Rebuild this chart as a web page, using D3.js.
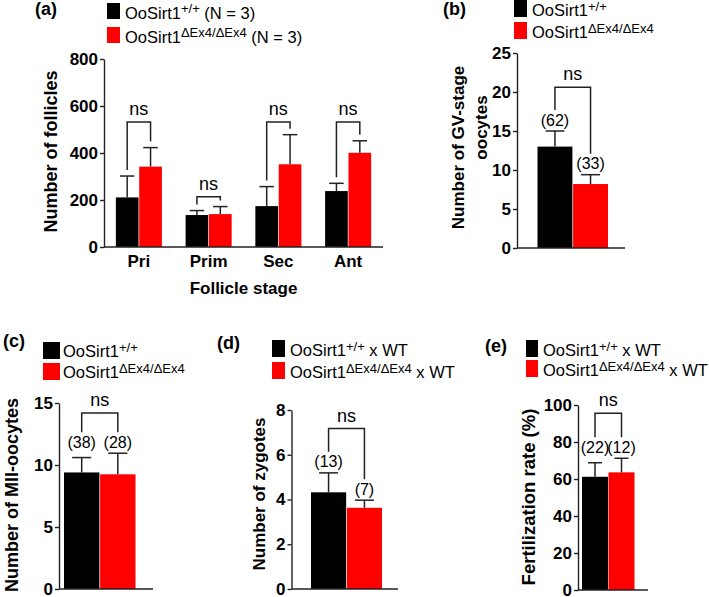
<!DOCTYPE html>
<html>
<head>
<meta charset="utf-8">
<script src="https://cdn.jsdelivr.net/npm/d3@7"></script>
<style>
  body { margin: 0; background: #fff; }
  text { font-family: "Liberation Sans", Arial, sans-serif; white-space: pre; }
</style>
</head>
<body>
<svg id="fig" width="709" height="597"></svg>
<script>
// ---- data ----
var genotypes = ["WT", "KO"];
var geneName = "OoSirt1";
var supWT = "+/+";
var supKO = "\u0394Ex4/\u0394Ex4";

// (a) follicle counts per stage
var stages = ["Pri", "Prim", "Sec", "Ant"];
var follWT = [211, 136, 174, 238];
var follWTerr = [91, 19, 83, 33];
var follKO = [342, 140, 352, 401];
var follKOerr = [81, 32, 126, 51];
var follTicks = [0, 200, 400, 600, 800];

// (b) GV-stage oocytes
var gvMean = [13.0, 8.2];
var gvErr = [2.0, 1.2];
var gvN = ["(62)", "(33)"];
var gvTicks = [0, 5, 10, 15, 20, 25];

// (c) MII oocytes
var miiMean = [9.4, 9.25];
var miiErr = [1.2, 1.7];
var miiN = ["(38)", "(28)"];
var miiTicks = [0, 5, 10, 15];

// (d) zygotes
var zygMean = [4.32, 3.63];
var zygErr = [0.87, 0.34];
var zygN = ["(13)", "(7)"];
var zygTicks = [0, 2, 4, 6, 8];

// (e) fertilization rate
var fertMean = [61.2, 63.6];
var fertErr = [7.6, 7.6];
var fertN = ["(22)", "(12)"];
var fertTicks = [0, 20, 40, 60, 80, 100];

var colors = {WT: "#000000", KO: "#ff0000"};
var ink = "#222";

var svg = d3.select("#fig");

// ---- helpers ----
function yAxis(x0, y, ticks, fs) {
    svg.append("g")
        .attr("transform", "translate(" + x0 + ",0)")
        .call(d3.axisLeft(y).tickValues(ticks).tickSize(4).tickPadding(2).tickSizeOuter(0))
        .call(function(g) {
            g.select(".domain").attr("stroke", ink).attr("stroke-width", 1.4);
            g.selectAll(".tick line").attr("stroke", ink).attr("stroke-width", 1.4);
            g.selectAll(".tick text")
                .attr("font-family", null)
                .attr("font-weight", "bold")
                .attr("font-size", fs)
                .attr("fill", "#000");
        });
}

function xLine(x0, x1, y0) {
    svg.append("line")
        .attr("x1", x0).attr("x2", x1)
        .attr("y1", y0).attr("y2", y0)
        .attr("stroke", ink).attr("stroke-width", 1.4);
}

function whisker(cx, yTop, yBar, half) {
    svg.append("line").attr("x1", cx).attr("x2", cx).attr("y1", yBar).attr("y2", yTop)
        .attr("stroke", ink).attr("stroke-width", 1.5);
    svg.append("line").attr("x1", cx - half).attr("x2", cx + half).attr("y1", yTop).attr("y2", yTop)
        .attr("stroke", ink).attr("stroke-width", 1.5);
}

function bracket(xa, xb, top, endA, endB, fs) {
    svg.append("path")
        .attr("d", "M" + xa + "," + endA + "V" + top + "H" + xb + "V" + endB)
        .attr("fill", "none").attr("stroke", ink).attr("stroke-width", 1.5);
    svg.append("text")
        .attr("x", (xa + xb) / 2).attr("y", top - 7)
        .attr("text-anchor", "middle").attr("font-size", fs)
        .text("ns");
}

function legend(L, suffix) {
    [{c: colors.WT, sup: supWT}, {c: colors.KO, sup: supKO}].forEach(function(r, i) {
        var top = L.y + i * L.gap;
        svg.append("rect").attr("x", L.x).attr("y", top)
            .attr("width", L.w).attr("height", L.h).attr("fill", r.c);
        var t = svg.append("text").attr("x", L.tx).attr("y", top + L.base)
            .attr("font-size", 16.5);
        t.append("tspan").text(geneName);
        t.append("tspan").attr("dy", -5.5).attr("font-size", 13).text(r.sup);
        t.append("tspan").attr("dy", 5.5).text(suffix);
    });
}

function panelLabel(txt, x, y) {
    svg.append("text").attr("x", x).attr("y", y)
        .attr("font-weight", "bold").attr("font-size", 18).text(txt);
}

function yTitle(lines, fs) {
    lines.forEach(function(l) {
        svg.append("text")
            .attr("transform", "translate(" + l.x + "," + l.y + ") rotate(-90)")
            .attr("text-anchor", "middle")
            .attr("font-weight", "bold").attr("font-size", fs)
            .text(l.t);
    });
}

// ---- (a) grouped bars ----
(function() {
    var x0 = 104, x1 = 383, y0 = 247, y1 = 59;
    var y = d3.scaleLinear().domain([0, 800]).range([y0, y1]);
    var x = d3.scaleBand().domain(stages).range([x0, x1]).paddingInner(0.34).paddingOuter(0.17);
    var xs = d3.scaleBand().domain(genotypes).range([0, x.bandwidth()]).paddingInner(0.03);
    var levels = [532, 214, 532, 532];   // bracket heights (data units)

    var rows = stages.map(function(s, i) {
        return {stage: s, vals: [
            {g: "WT", v: follWT[i], e: follWTerr[i]},
            {g: "KO", v: follKO[i], e: follKOerr[i]}
        ]};
    });

    var grp = svg.append("g");
    grp.selectAll("g").data(rows).enter().append("g")
        .attr("transform", function(d) { return "translate(" + x(d.stage) + ",0)"; })
        .selectAll("rect").data(function(d) { return d.vals; }).enter().append("rect")
        .attr("x", function(d) { return xs(d.g); })
        .attr("width", xs.bandwidth())
        .attr("y", function(d) { return y(d.v); })
        .attr("height", function(d) { return y0 - y(d.v); })
        .attr("fill", function(d) { return colors[d.g]; });

    var half = xs.bandwidth() * 0.32;
    rows.forEach(function(r, i) {
        var cx = r.vals.map(function(d) { return x(r.stage) + xs(d.g) + xs.bandwidth() / 2; });
        r.vals.forEach(function(d, k) { whisker(cx[k], y(d.v + d.e), y(d.v), half); });
        bracket(cx[0], cx[1], y(levels[i]),
            y(r.vals[0].v + r.vals[0].e) - 6, y(r.vals[1].v + r.vals[1].e) - 6, 18);
    });

    yAxis(x0, y, follTicks, 17);
    xLine(x0, x1, y0);

    svg.append("g").selectAll("text").data(stages).enter().append("text")
        .attr("x", function(d) { return x(d) + x.bandwidth() / 2; })
        .attr("y", 267)
        .attr("text-anchor", "middle").attr("font-weight", "bold").attr("font-size", 17)
        .text(function(d) { return d; });
    svg.append("text").attr("x", (x0 + x1) / 2).attr("y", 294)
        .attr("text-anchor", "middle").attr("font-weight", "bold").attr("font-size", 17)
        .text("Follicle stage");

    yTitle([{t: "Number of follicles", x: 57, y: 151.5}], 18);
    legend({x: 107, y: 3, w: 13, h: 16, gap: 24, tx: 125, base: 15.5}, " (N = 3)");
    panelLabel("(a)", 35, 15);
})();

// ---- (b)-(e) two-bar panels ----
function pairPanel(cfg) {
    var y = d3.scaleLinear().domain([0, cfg.max]).range([cfg.y0, cfg.y1]);
    var x = d3.scaleBand().domain(genotypes).range([cfg.b0, cfg.b1]).paddingInner(0.02);
    var rows = genotypes.map(function(g, i) { return {g: g, v: cfg.mean[i], e: cfg.err[i], n: cfg.n[i]}; });

    svg.append("g").selectAll("rect").data(rows).enter().append("rect")
        .attr("x", function(d) { return x(d.g); })
        .attr("width", x.bandwidth())
        .attr("y", function(d) { return y(d.v); })
        .attr("height", function(d) { return cfg.y0 - y(d.v); })
        .attr("fill", function(d) { return colors[d.g]; });

    var half = x.bandwidth() * 0.27;
    var cx = rows.map(function(d) { return x(d.g) + x.bandwidth() / 2; });
    var tops = rows.map(function(d) { return y(d.v + d.e); });
    rows.forEach(function(d, k) { whisker(cx[k], tops[k], y(d.v), half); });

    var lab = tops.map(function(t) { return (cfg.align ? d3.min(tops) : t) - 11; });
    svg.append("g").selectAll("text").data(rows).enter().append("text")
        .attr("x", function(d, k) { return cx[k]; })
        .attr("y", function(d, k) { return lab[k] + 5.5; })
        .attr("text-anchor", "middle").attr("font-size", 16)
        .text(function(d) { return d.n; });

    bracket(cx[0], cx[1], y(cfg.level), lab[0] - 10, lab[1] - 10, 18);

    yAxis(cfg.x0, y, cfg.ticks, 17);
    xLine(cfg.x0, cfg.x1, cfg.y0);
    yTitle(cfg.title, cfg.titleSize);
    legend(cfg.legend, cfg.suffix);
    panelLabel(cfg.label, cfg.lx, cfg.ly);
}

pairPanel({
    mean: gvMean, err: gvErr, n: gvN, ticks: gvTicks, max: 25, level: 20.6,
    x0: 517, x1: 625, b0: 537.5, b1: 608, y0: 248, y1: 53, align: false,
    title: [{t: "Number of GV-stage", x: 464, y: 147.5}, {t: "oocytes", x: 487, y: 127.5}], titleSize: 17,
    legend: {x: 514, y: 0, w: 13, h: 17, gap: 22, tx: 532, base: 16}, suffix: "",
    label: "(b)", lx: 443, ly: 15
});

pairPanel({
    mean: miiMean, err: miiErr, n: miiN, ticks: miiTicks, max: 15, level: 14.2,
    x0: 59, x1: 153, b0: 64, b1: 135.5, y0: 589, y1: 403, align: true,
    title: [{t: "Number of MII-oocytes", x: 18, y: 495}], titleSize: 18,
    legend: {x: 43, y: 342, w: 17, h: 17, gap: 21, tx: 63, base: 15}, suffix: "",
    label: "(c)", lx: 3, ly: 347
});

pairPanel({
    mean: zygMean, err: zygErr, n: zygN, ticks: zygTicks, max: 8, level: 7.17,
    x0: 291.5, x1: 398, b0: 311, b1: 382, y0: 589, y1: 410, align: false,
    title: [{t: "Number of zygotes", x: 265, y: 494}], titleSize: 17,
    legend: {x: 272, y: 340, w: 13, h: 17, gap: 22, tx: 290, base: 16}, suffix: " x WT",
    label: "(d)", lx: 217, ly: 349
});

pairPanel({
    mean: fertMean, err: fertErr, n: fertN, ticks: fertTicks, max: 100, level: 95.5,
    x0: 578, x1: 648, b0: 582, b1: 634.5, y0: 590, y1: 405, align: true,
    title: [{t: "Fertilization rate (%)", x: 535, y: 497}], titleSize: 18.5,
    legend: {x: 526, y: 340, w: 12, h: 17, gap: 20, tx: 543, base: 16}, suffix: " x WT",
    label: "(e)", lx: 485, ly: 352
});
</script>
</body>
</html>
